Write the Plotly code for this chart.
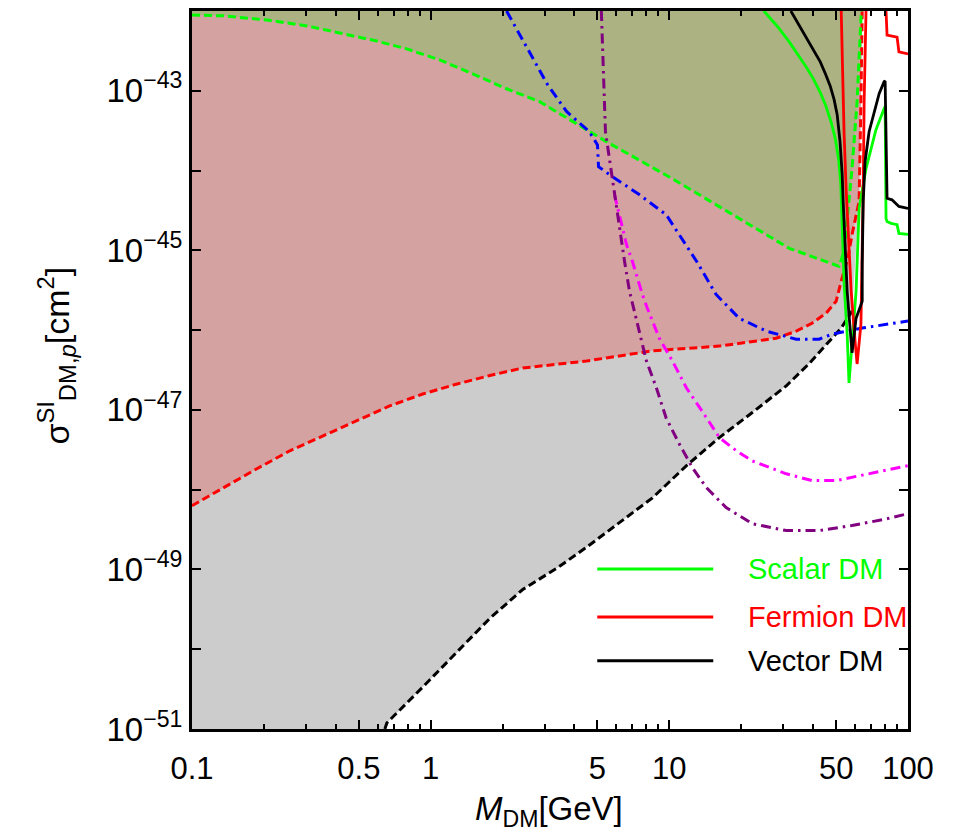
import plotly.graph_objects as go

# ---------------- data ----------------
# boundary of the pink region (red dashed)
RED_DASH_M = [0.1, 0.135, 0.187, 0.257, 0.353, 0.49, 0.673, 0.926, 1.28, 1.77, 2.43, 4.5, 8.5,
              16.2, 28, 34, 39.6, 45.4, 50, 52.5, 56.0, 58.3, 62.4, 63.5, 64.3]
RED_DASH_S = [6.3e-49, 1.06e-48, 1.83e-48, 3.07e-48, 4.7e-48, 7.3e-48, 1.12e-47, 1.58e-47, 2.1e-47,
              2.7e-47, 3.35e-47, 4.1e-47, 5.5e-47, 6.3e-47, 7.9e-47, 9.7e-47, 1.22e-46, 1.63e-46,
              2.3e-46, 4.1e-46, 8.0e-46, 1.58e-45, 4.1e-45, 7.3e-44, 1e-42]

# boundary of the olive region (green dashed)
GREEN_DASH_M = [0.1, 0.135, 0.206, 0.303, 0.416, 0.594, 0.794, 1.09, 1.5, 2.08, 2.86, 5.45, 10.3,
                19.6, 31.8, 51.4, 54, 58.3, 61.2, 63.5, 63.8]
GREEN_DASH_S = [8.9e-43, 8.7e-43, 7.7e-43, 6.5e-43, 5.3e-43, 4.2e-43, 3.35e-43, 2.44e-43, 1.63e-43,
                1.06e-43, 7.3e-44, 2.3e-44, 7.9e-45, 2.5e-45, 1.06e-45, 6.3e-46, 9.7e-46, 1.06e-44,
                7.3e-44, 7.9e-43, 1e-42]

# boundary of the grey region (black dashed)
BLACK_DASH_M = [0.643, 0.655, 0.926, 1.28, 1.77, 2.43, 3.4, 4.5, 6.2, 8.5, 11.8, 16.2, 22.2, 30.9,
                38.5, 46.7, 52.5, 58.3]
BLACK_DASH_S = [1e-51, 1.19e-51, 3.35e-51, 8.9e-51, 2.44e-50, 5.6e-50, 1.05e-49, 1.9e-49, 3.9e-49,
                7.9e-49, 2.0e-48, 4.5e-48, 9.2e-48, 2.0e-47, 3.8e-47, 7.3e-47, 1.06e-46, 1.73e-46]
GREY_EDGE_M = [62.4, 63.5, 64.3]
GREY_EDGE_S = [4.1e-45, 7.3e-44, 1e-42]

# blue dot-dashed
BLUE_M = [2.08, 2.65, 3.09, 3.71, 4.62, 5.0, 5.05, 5.61, 7.48, 9.7, 11.0, 13.0, 15.7, 19.6, 25.5,
          34, 42.4, 48.1, 64.3, 100]
BLUE_S = [1e-42, 2.66e-43, 1.19e-43, 5.5e-44, 3.07e-44, 2.1e-44, 1.12e-44, 8.9e-45, 5.0e-45, 2.8e-45,
          1.58e-45, 7.3e-46, 2.8e-46, 1.41e-46, 9.7e-47, 7.7e-47, 7.7e-47, 8.9e-47, 1.06e-46, 1.3e-46]

# purple dot-dashed
PURPLE_M = [5.19, 5.3, 5.4, 5.61, 5.89, 6.18, 6.49, 6.81, 7.64, 8.02, 8.83, 9.7, 11.0, 12.5, 14.3,
            17.3, 22.2, 30.9, 42.4, 58.3, 80.9, 100]
PURPLE_S = [1e-42, 1.3e-43, 3.07e-44, 1.41e-44, 5.0e-45, 1.88e-45, 7.3e-46, 3.07e-46, 7.9e-47,
            4.1e-47, 1.88e-47, 7.9e-48, 3.76e-48, 1.88e-48, 1.06e-48, 5.96e-49, 3.76e-49, 3.07e-49,
            3.07e-49, 3.55e-49, 4.3e-49, 5.0e-49]

# magenta dot-dashed
MAGENTA_M = [5.89, 6.61, 7.0, 7.71, 8.09, 9.08, 10.3, 11.8, 13.7, 16.2, 19.1, 22.2, 30.9, 39.6, 50,
             68.7, 100]
MAGENTA_S = [5.0e-45, 1.19e-45, 7.3e-46, 2.8e-46, 1.88e-46, 7.9e-47, 4.1e-47, 1.88e-47, 9.7e-48,
             4.5e-48, 3.07e-48, 2.3e-48, 1.58e-48, 1.3e-48, 1.3e-48, 1.58e-48, 2.0e-48]

# solid model curves
SCALAR_M = [24.9, 28.5, 31.8, 34.8, 37.4, 40.2, 42.9, 45.4, 47.7, 49.6, 51.2, 52.3, 53, 54, 55.6,
            56.6, 60.6, 62.4, 66.7, 73.4, 79.4, 80.2, 80.9, 81.7, 84.9, 90, 91.6, 100]
SCALAR_S = [1e-42, 6.3e-43, 4.1e-43, 2.8e-43, 2.0e-43, 1.4e-43, 9.5e-44, 6.3e-44, 4.0e-44,
            2.5e-44, 1.4e-44, 6.7e-45, 1.58e-45, 3.76e-46, 8.9e-47, 2.18e-47, 3.07e-46, 3.35e-45,
            1.06e-44, 3.25e-44, 5.96e-44, 6.3e-44, 2.5e-45, 2.3e-45, 2.18e-45, 2.1e-45, 1.63e-45,
            1.58e-45]

FERMION_M = [52.5, 54, 55.1, 57.8, 60, 61.2, 63.5, 64.3, 64.9, 65.5, 66.7, None,
             80.9, 81.7, 90, 91.6, 100]
FERMION_S = [1e-42, 2.8e-44, 5.5e-45, 3.07e-46, 7.3e-47, 3.76e-47, 1.19e-46, 7.9e-46, 5.5e-45,
             7.3e-44, 1e-42, None, 1e-42, 5.0e-43, 4.7e-43, 3.07e-43, 2.9e-43]

VECTOR_M = [32.3, 35.0, 37.4, 40.2, 42.9, 45.2, 47.2, 49.0, 50.5, 51.9, 53.0, 53.5, 54.5, 55.6,
            58.3, 60.6, 64.3, 64.3, 64.9, 66.1, 68.7, 72.1, 75.7, 79.4, 80.2, 81.7, 85.7, 91.6, 100]
VECTOR_S = [1e-42, 6.6e-43, 4.5e-43, 3.2e-43, 2.3e-43, 1.6e-43, 1.15e-43, 7.8e-44, 5.0e-44,
            2.3e-44, 9.0e-45, 4.1e-45, 9.7e-46, 3.07e-46, 5.2e-47, 1.41e-46, 2.3e-46, 6.7e-46,
            4.1e-45, 1.3e-44, 3.07e-44, 5.5e-44, 9.2e-44, 1.3e-43, 1.33e-43, 4.5e-45, 4.3e-45,
            3.55e-45, 3.35e-45]

LEGEND_NAMES = ["Scalar DM", "Fermion DM", "Vector DM"]
LEGEND_COLORS = ["#00FF00", "#FF0000", "#000000"]

X_TICKS = [0.1, 0.5, 1, 5, 10, 50, 100]
X_TICKTEXT = ["0.1", "0.5", "1", "5", "10", "50", "100"]
X_MINOR = [0.2, 0.3, 0.4, 0.6, 0.7, 0.8, 0.9, 2, 3, 4, 6, 7, 8, 9, 20, 30, 40, 60, 70, 80, 90]
Y_LABEL_EXP = [-51, -49, -47, -45, -43]
Y_TICKS = [10.0 ** e for e in Y_LABEL_EXP]
Y_TICKTEXT = ["10<sup>\u2212%d</sup>" % (-e) for e in Y_LABEL_EXP]
Y_MINOR = [10.0 ** e for e in [-50, -48, -46, -44, -42]]

X_RANGE = [0.1, 100]
Y_RANGE = [1e-51, 1e-42]

# ---------------- figure ----------------
FONT = "Liberation Sans, Arial, sans-serif"
GREY = "#CCCCCC"
PINK = "#D4A2A1"
OLIVE = "#ACB282"

fig = go.Figure()

# filled regions
fig.add_trace(go.Scatter(
    x=[X_RANGE[0]] + BLACK_DASH_M + GREY_EDGE_M + [X_RANGE[0]],
    y=[Y_RANGE[0]] + BLACK_DASH_S + GREY_EDGE_S + [Y_RANGE[1]],
    fill="toself", fillcolor=GREY, line=dict(width=0), mode="lines",
    hoverinfo="skip", showlegend=False))
fig.add_trace(go.Scatter(
    x=RED_DASH_M + [X_RANGE[0]], y=RED_DASH_S + [Y_RANGE[1]],
    fill="toself", fillcolor=PINK, line=dict(width=0), mode="lines",
    hoverinfo="skip", showlegend=False))
fig.add_trace(go.Scatter(
    x=GREEN_DASH_M + [X_RANGE[0]], y=GREEN_DASH_S + [Y_RANGE[1]],
    fill="toself", fillcolor=OLIVE, line=dict(width=0), mode="lines",
    hoverinfo="skip", showlegend=False))

DASH = "8px,4px"
DOTDASH = "10px,5px,2.5px,5px"

def add_line(xs, ys, color, dash, width, shape="linear"):
    fig.add_trace(go.Scatter(x=xs, y=ys, mode="lines",
                             line=dict(color=color, width=width, dash=dash, shape=shape),
                             connectgaps=False, hoverinfo="skip", showlegend=False))

add_line(BLACK_DASH_M, BLACK_DASH_S, "#000000", DASH, 3)
add_line(RED_DASH_M, RED_DASH_S, "#FF0000", DASH, 3)
add_line(GREEN_DASH_M, GREEN_DASH_S, "#00FF00", DASH, 3)
add_line(BLUE_M, BLUE_S, "#0000FF", DOTDASH, 3)
add_line(MAGENTA_M, MAGENTA_S, "#FF00FF", DOTDASH, 3)
add_line(PURPLE_M, PURPLE_S, "#800080", DOTDASH, 3)
add_line(SCALAR_M, SCALAR_S, LEGEND_COLORS[0], None, 2.8)
add_line(FERMION_M, FERMION_S, LEGEND_COLORS[1], None, 2.8)
add_line(VECTOR_M, VECTOR_S, LEGEND_COLORS[2], None, 2.8)

# legend drawn as shapes + annotations (paper coordinates)
LEG_Y = [0.223, 0.156, 0.095]
for name, col, yy in zip(LEGEND_NAMES, LEGEND_COLORS, LEG_Y):
    fig.add_shape(type="line", xref="paper", yref="paper", x0=0.566, x1=0.728, y0=yy, y1=yy,
                  line=dict(color=col, width=3))
    fig.add_annotation(xref="paper", yref="paper", x=0.774, y=yy, text=name, showarrow=False,
                       xanchor="left", yanchor="middle",
                       font=dict(family=FONT, size=29, color=col))

# axis titles
fig.add_annotation(xref="paper", yref="paper", x=0.498, y=-0.114,
                   text="<i>M</i><sub>DM</sub>[GeV]", showarrow=False,
                   xanchor="center", yanchor="middle",
                   font=dict(family=FONT, size=33, color="#000000"))
fig.add_annotation(xref="paper", yref="paper", x=-0.19, y=0.52,
                   text="\u03c3<sup>SI</sup><sub>DM,<i>p</i></sub>[cm<sup>2</sup>]",
                   showarrow=False, textangle=-90, xanchor="center", yanchor="middle",
                   font=dict(family=FONT, size=34, color="#000000"))

axis_common = dict(showline=True, linecolor="#000000", linewidth=3, mirror="allticks",
                   ticks="inside", tickcolor="#000000", tickwidth=2, ticklen=9,
                   showgrid=False, zeroline=False)

fig.update_xaxes(type="log", range=[-1, 2], tickmode="array", tickvals=X_TICKS,
                 ticktext=X_TICKTEXT, ticklabelstandoff=10,
                 tickfont=dict(family=FONT, size=31, color="#000000"),
                 minor=dict(ticks="inside", ticklen=5, tickwidth=2, tickcolor="#000000",
                            tickmode="array", tickvals=X_MINOR, showgrid=False),
                 **axis_common)
fig.update_yaxes(type="log", range=[-51, -42], tickmode="array", tickvals=Y_TICKS,
                 ticktext=Y_TICKTEXT,
                 tickfont=dict(family=FONT, size=33, color="#000000"),
                 minor=dict(ticks="inside", ticklen=9, tickwidth=2, tickcolor="#000000",
                            tickmode="array", tickvals=Y_MINOR, showgrid=False),
                 **axis_common)

fig.update_layout(width=966, height=832, margin=dict(l=192, r=58, t=8, b=103),
                  plot_bgcolor="#FFFFFF", paper_bgcolor="#FFFFFF", showlegend=False,
                  font=dict(family=FONT, color="#000000"))

fig.write_html("out.html")
